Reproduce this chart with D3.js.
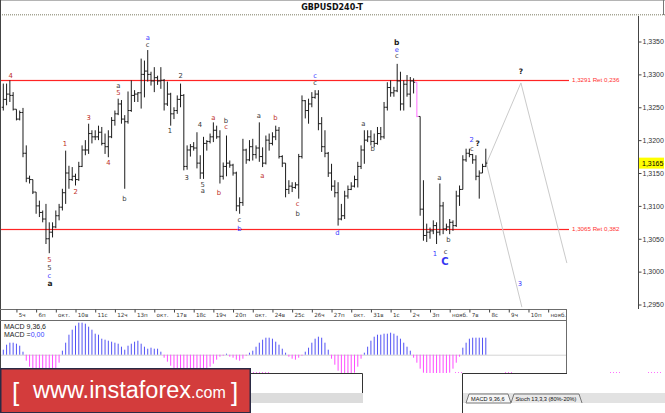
<!DOCTYPE html>
<html>
<head>
<meta charset="utf-8">
<script src="https://cdn.jsdelivr.net/npm/d3@7"></script>
<style>
  html, body { margin: 0; padding: 0; background: #fff; }
  svg { display: block; }
</style>
</head>
<body>
<svg id="chart" width="665" height="413" font-family="DejaVu Sans, sans-serif"></svg>
<script>
// GBPUSD, 4h bars, 4 Oct - 7 Nov
const symbol = "GBPUSD240-T";
const dayLabels = ["5ч", "6п", "окт.", "10в", "11с", "12ч", "13п", "окт.", "17в", "18с", "19ч", "20п", "окт.",
  "24в", "25с", "26ч", "27п", "окт.", "31в", "1с", "2ч", "3п", "нояб.", "7в", "8с", "9ч", "10п", "нояб."];

const opens = [1.3250, 1.3262, 1.3270, 1.3268, 1.3247, 1.3232, 1.3242, 1.3180, 1.3142, 1.3140,
  1.3121, 1.3100, 1.3090, 1.3080, 1.3050, 1.3060, 1.3068, 1.3085, 1.3098, 1.3120,
  1.3150, 1.3140, 1.3145, 1.3140, 1.3160, 1.3185, 1.3185, 1.3210, 1.3205, 1.3205,
  1.3212, 1.3195, 1.3190, 1.3205, 1.3230, 1.3240, 1.3255, 1.3232, 1.3228, 1.3245,
  1.3268, 1.3270, 1.3272, 1.3300, 1.3305, 1.3300, 1.3290, 1.3295, 1.3290, 1.3291,
  1.3255, 1.3270, 1.3240, 1.3245, 1.3262, 1.3268, 1.3160, 1.3185, 1.3190, 1.3188,
  1.3165, 1.3150, 1.3195, 1.3198, 1.3205, 1.3215, 1.3205, 1.3145, 1.3160, 1.3165,
  1.3162, 1.3150, 1.3100, 1.3105, 1.3185, 1.3170, 1.3190, 1.3178, 1.3188, 1.3175,
  1.3165, 1.3200, 1.3195, 1.3205, 1.3215, 1.3175, 1.3165, 1.3125, 1.3130, 1.3128,
  1.3132, 1.3175, 1.3260, 1.3245, 1.3255, 1.3265, 1.3270, 1.3225, 1.3190, 1.3180,
  1.3150, 1.3130, 1.3120, 1.3080, 1.3085, 1.3115, 1.3125, 1.3130, 1.3140, 1.3160,
  1.3185, 1.3200, 1.3205, 1.3198, 1.3195, 1.3210, 1.3205, 1.3250, 1.3280, 1.3272,
  1.3275, 1.3290, 1.3255, 1.3285, 1.3270, 1.3290, 1.3288, 1.3236, 1.3095, 1.3055,
  1.3060, 1.3062, 1.3070, 1.3060, 1.3100, 1.3065, 1.3068, 1.3075, 1.3070, 1.3115,
  1.3125, 1.3170, 1.3180, 1.3178, 1.3170, 1.3145, 1.3150, 1.3160];
const highs = [1.3286, 1.3286, 1.3291, 1.3273, 1.3247, 1.3245, 1.3249, 1.3192, 1.3146, 1.3140,
  1.3121, 1.3108, 1.3093, 1.3103, 1.3075, 1.3075, 1.3093, 1.3103, 1.3126, 1.3184,
  1.3161, 1.3159, 1.3149, 1.3167, 1.3192, 1.3200, 1.3225, 1.3215, 1.3215, 1.3222,
  1.3220, 1.3210, 1.3215, 1.3235, 1.3245, 1.3263, 1.3261, 1.3238, 1.3274, 1.3291,
  1.3276, 1.3273, 1.3324, 1.3321, 1.3337, 1.3304, 1.3311, 1.3298, 1.3311, 1.3293,
  1.3289, 1.3272, 1.3250, 1.3268, 1.3286, 1.3270, 1.3192, 1.3194, 1.3197, 1.3212,
  1.3177, 1.3205, 1.3200, 1.3210, 1.3227, 1.3222, 1.3215, 1.3166, 1.3207, 1.3169,
  1.3164, 1.3152, 1.3113, 1.3202, 1.3187, 1.3200, 1.3202, 1.3192, 1.3227, 1.3189,
  1.3207, 1.3210, 1.3212, 1.3222, 1.3220, 1.3177, 1.3165, 1.3139, 1.3136, 1.3136,
  1.3179, 1.3268, 1.3261, 1.3263, 1.3273, 1.3276, 1.3276, 1.3235, 1.3215, 1.3182,
  1.3164, 1.3139, 1.3136, 1.3103, 1.3123, 1.3131, 1.3136, 1.3146, 1.3167, 1.3192,
  1.3215, 1.3215, 1.3215, 1.3210, 1.3220, 1.3220, 1.3258, 1.3288, 1.3291, 1.3281,
  1.3316, 1.3304, 1.3291, 1.3299, 1.3296, 1.3294, 1.3288, 1.3236, 1.3139, 1.3073,
  1.3067, 1.3078, 1.3075, 1.3134, 1.3106, 1.3073, 1.3080, 1.3078, 1.3123, 1.3131,
  1.3177, 1.3187, 1.3187, 1.3179, 1.3177, 1.3154, 1.3164, 1.3187];
const lows = [1.3245, 1.3253, 1.3258, 1.3245, 1.3230, 1.3230, 1.3174, 1.3136, 1.3134, 1.3118,
  1.3088, 1.3083, 1.3075, 1.3042, 1.3028, 1.3052, 1.3066, 1.3078, 1.3093, 1.3103,
  1.3126, 1.3138, 1.3131, 1.3138, 1.3159, 1.3177, 1.3179, 1.3195, 1.3200, 1.3200,
  1.3192, 1.3179, 1.3174, 1.3203, 1.3222, 1.3238, 1.3225, 1.3126, 1.3225, 1.3243,
  1.3258, 1.3258, 1.3248, 1.3265, 1.3289, 1.3283, 1.3273, 1.3284, 1.3278, 1.3245,
  1.3252, 1.3222, 1.3232, 1.3240, 1.3250, 1.3154, 1.3155, 1.3175, 1.3184, 1.3157,
  1.3141, 1.3141, 1.3184, 1.3195, 1.3197, 1.3202, 1.3134, 1.3140, 1.3145, 1.3158,
  1.3146, 1.3092, 1.3088, 1.3100, 1.3164, 1.3168, 1.3169, 1.3172, 1.3167, 1.3159,
  1.3163, 1.3184, 1.3192, 1.3200, 1.3172, 1.3159, 1.3113, 1.3118, 1.3121, 1.3126,
  1.3111, 1.3172, 1.3233, 1.3225, 1.3250, 1.3263, 1.3215, 1.3182, 1.3174, 1.3144,
  1.3123, 1.3113, 1.3070, 1.3078, 1.3080, 1.3111, 1.3124, 1.3128, 1.3128, 1.3156,
  1.3164, 1.3197, 1.3192, 1.3189, 1.3193, 1.3200, 1.3202, 1.3245, 1.3266, 1.3266,
  1.3273, 1.3245, 1.3245, 1.3266, 1.3250, 1.3271, 1.3235, 1.3085, 1.3047, 1.3045,
  1.3050, 1.3057, 1.3042, 1.3055, 1.3057, 1.3062, 1.3057, 1.3062, 1.3068, 1.3100,
  1.3125, 1.3167, 1.3174, 1.3164, 1.3139, 1.3111, 1.3150, 1.3159];
const closes = [1.3262, 1.3270, 1.3268, 1.3247, 1.3232, 1.3242, 1.3180, 1.3142, 1.3140, 1.3121,
  1.3100, 1.3090, 1.3080, 1.3050, 1.3060, 1.3068, 1.3085, 1.3098, 1.3120, 1.3150,
  1.3140, 1.3145, 1.3140, 1.3160, 1.3185, 1.3185, 1.3210, 1.3205, 1.3205, 1.3212,
  1.3195, 1.3190, 1.3205, 1.3230, 1.3240, 1.3255, 1.3232, 1.3228, 1.3245, 1.3268,
  1.3270, 1.3272, 1.3300, 1.3305, 1.3300, 1.3290, 1.3295, 1.3290, 1.3291, 1.3255,
  1.3270, 1.3240, 1.3245, 1.3262, 1.3268, 1.3160, 1.3185, 1.3190, 1.3188, 1.3165,
  1.3150, 1.3195, 1.3198, 1.3205, 1.3215, 1.3205, 1.3145, 1.3160, 1.3165, 1.3162,
  1.3150, 1.3100, 1.3105, 1.3185, 1.3170, 1.3190, 1.3178, 1.3188, 1.3175, 1.3165,
  1.3200, 1.3195, 1.3205, 1.3215, 1.3175, 1.3165, 1.3125, 1.3130, 1.3128, 1.3132,
  1.3175, 1.3260, 1.3245, 1.3255, 1.3265, 1.3270, 1.3225, 1.3190, 1.3180, 1.3150,
  1.3130, 1.3120, 1.3080, 1.3085, 1.3115, 1.3125, 1.3130, 1.3140, 1.3160, 1.3185,
  1.3200, 1.3205, 1.3198, 1.3195, 1.3210, 1.3205, 1.3250, 1.3280, 1.3272, 1.3275,
  1.3290, 1.3255, 1.3285, 1.3270, 1.3290, 1.3288, 1.3236, 1.3095, 1.3055, 1.3060,
  1.3062, 1.3070, 1.3060, 1.3100, 1.3065, 1.3068, 1.3075, 1.3070, 1.3115, 1.3125,
  1.3170, 1.3180, 1.3178, 1.3170, 1.3145, 1.3150, 1.3160, 1.3165];

// MACD 9,36,6 histogram, in points (0.0001)
const macdPts = [5, 10, 12, 12, 11, 9, 3,
  -6, -12, -16, -18, -20, -22, -22, -20, -18, -14, -8,
  4, 12, 20, 25, 29, 32, 32, 31, 28, 25, 21, 20, 16, 15, 14, 13, 12, 11, 8, 5, 9, 11, 13, 14, 11, 8, 6, 7, 6, 6, 3,
  -3, -7, -11, -14, -17, -18, -20, -22, -22, -22, -20, -18, -17, -15, -12, -9, -5,
  -2, -1, 1, -2, -3, -5, -6, -4, -1, 2,
  4, 8, 12, 15, 17, 17, 16, 13, 10, 6, 2,
  -2, -4, -5, -3, -1,
  3, 7, 12, 16, 18, 17, 12, 5,
  -4, -10, -16, -20, -22, -22, -21, -18, -12, -4,
  2, 8, 14, 18, 20, 20, 21, 21, 22, 21, 19, 16, 12, 8, 4,
  -3, -8, -14, -18, -20, -22, -22, -22, -22, -21, -20, -18, -14, -8, -2,
  7, 12, 16, 17, 17, 17, 17, 17];

const priceTicks = [1.3350, 1.3300, 1.3250, 1.3200, 1.3150, 1.3100, 1.3050, 1.3000, 1.2950];
const lastPrice = 1.3165;
const retPrices = [1.3291, 1.3065];
const retNames = ["1,3291 Ret 0,236", "1,3065 Ret 0,382"];
const spikeBar = 126; // bar marked in magenta on the terminal

// forecast paths [bar index, price]
const pathUp = [[147, 1.3162], [157.7, 1.3287], [171.7, 1.3013]];
const pathDown = [[147, 1.3168], [158, 1.2946]];

// wave marks: text, bar index, price, degree
const waveText = ["4", "a", "c", "2", "a", "5", "3", "4", "a", "b", "c", "a", "b", "c", "c", "1", "1", "4", "2", "b",
  "3", "5", "a", "b", "a", "c", "b", "c", "b", "5", "5", "c", "a", "b", "e", "c", "?", "a", "b", "2", "?", "c",
  "a", "b", "d", "1", "c", "C", "3"];
const waveIdx = [2.25, 44, 44, 54.05, 35.04, 35.04, 26, 59.93, 63.99, 67.85, 67.85, 77.82, 82.88, 94.97, 94.97, 50.79,
  18.8, 31.99, 22.06, 36.87, 55.88, 60.76, 60.76, 65.72, 78.92, 89.7, 89.7, 71.91, 71.91, 14.02, 14.02, 14.02, 14.23,
  119.87, 119.87, 119.87, 157.74, 109.69, 112.55, 142.72, 144.55, 142.72, 132.85, 135.59, 101.77, 131.53, 134.79,
  134.58, 157.4];
const wavePrice = [1.32975, 1.33564, 1.33447, 1.3298, 1.32823, 1.32727, 1.32347, 1.32241, 1.32347, 1.32295, 1.32204,
  1.32371, 1.32347, 1.32984, 1.32873, 1.32139, 1.31952, 1.31663, 1.31216, 1.31115, 1.31429, 1.31317, 1.31226,
  1.31206, 1.31454, 1.31029, 1.30876, 1.30796, 1.30648, 1.30187, 1.30060, 1.29938, 1.29816, 1.33482, 1.33381,
  1.33279, 1.33041, 1.32245, 1.31865, 1.32002, 1.31952, 1.31865, 1.31429, 1.30492, 1.30592, 1.30268, 1.30298,
  1.30162, 1.29812];
const waveDegree = ["s", "m", "n", "n", "n", "s", "s", "n", "s", "n", "s", "n", "s", "m", "n", "n", "s", "s", "s", "n",
  "n", "n", "n", "s", "s", "s", "n", "n", "m", "s", "n", "m", "p", "p", "m", "n", "p", "n", "n", "m", "p", "n",
  "n", "n", "m", "m", "n", "i", "m"];

const degreeStyle = {
  i: { fill: "#3636f2", size: 10, weight: "bold" },
  p: { fill: "#222", size: 7.5, weight: "bold" },
  m: { fill: "#3c3cff", size: 6.8, weight: "normal" },
  n: { fill: "#3a3a3a", size: 6.8, weight: "normal" },
  s: { fill: "#c03028", size: 6.8, weight: "normal" }
};
const sans = "'Liberation Sans', Arial, sans-serif";

const svg = d3.select("#chart");
const x = d3.scaleLinear().domain([0, 147]).range([3.3, 485.8]);
const y = d3.scaleLinear().domain([1.2950, 1.3350]).range([304.5, 41.5]);
const macdY = d3.scaleLinear().domain([-22, 32]).range([376.7, 322.7]);
const priceFmt = (d) => d3.format(".4f")(d).replace(".", ",");

// ---- frame ----
const frame = svg.append("g").attr("fill", "none");
frame.append("line").attr("x1", 0).attr("x2", 665).attr("y1", 0.5).attr("y2", 0.5).attr("stroke", "#b4b4b4");
frame.append("line").attr("x1", 0).attr("x2", 665).attr("y1", 14.5).attr("y2", 14.5)
  .attr("stroke", "#a4a494").attr("stroke-dasharray", "1,1");
frame.append("line").attr("x1", 0).attr("x2", 665).attr("y1", 15.5).attr("y2", 15.5)
  .attr("stroke", "#d6d6cc").attr("stroke-dasharray", "1,1");
frame.append("line").attr("x1", 663.5).attr("x2", 663.5).attr("y1", 0).attr("y2", 15).attr("stroke", "#777");
frame.append("line").attr("x1", 0.5).attr("x2", 0.5).attr("y1", 0).attr("y2", 413).attr("stroke", "#444");
frame.append("line").attr("x1", 638.5).attr("x2", 638.5).attr("y1", 16).attr("y2", 309).attr("stroke", "#444");

svg.append("text").attr("x", 332).attr("y", 10).attr("text-anchor", "middle")
  .attr("font-size", 8).attr("font-weight", "bold").attr("fill", "#111").text(symbol);

// ---- retracement levels ----
const ret = svg.append("g");
ret.selectAll("line.halo").data(retPrices).join("line").attr("class", "halo")
  .attr("x1", 1).attr("x2", 569)
  .attr("y1", (d) => Math.round(y(d)) + 0.5).attr("y2", (d) => Math.round(y(d)) + 0.5)
  .attr("stroke", "#ffd2d2").attr("stroke-width", 2.2);
ret.selectAll("line.level").data(retPrices).join("line").attr("class", "level")
  .attr("x1", 1).attr("x2", 569)
  .attr("y1", (d) => Math.round(y(d)) + 0.5).attr("y2", (d) => Math.round(y(d)) + 0.5)
  .attr("stroke", "#ff2424").attr("stroke-width", 1);
ret.selectAll("text").data(retPrices).join("text")
  .attr("x", 572).attr("y", (d) => y(d) + 2.2)
  .attr("font-family", sans).attr("font-size", 6.2).attr("fill", "#ff3030")
  .text((d, i) => retNames[i]);

// ---- forecast paths ----
const line = d3.line().x((d) => x(d[0])).y((d) => y(d[1]));
svg.append("g").attr("fill", "none").attr("stroke", "#cacaca").attr("stroke-width", 1)
  .selectAll("path").data([pathUp, pathDown]).join("path").attr("d", line);

// ---- price bars ----
svg.append("g").attr("stroke", "#1c1c1c").attr("stroke-width", 1).attr("fill", "none")
  .selectAll("path").data(d3.range(opens.length)).join("path")
  .attr("stroke", (i) => (i === spikeBar ? "#ff70ff" : null))
  .attr("d", (i) => {
    const cx = x(i);
    return `M${cx},${y(highs[i])}V${y(lows[i])}` +
      `M${cx - 1.6},${y(opens[i])}H${cx}` +
      `M${cx},${y(closes[i])}H${cx + 1.6}`;
  });

// ---- wave marks ----
svg.append("g").attr("text-anchor", "middle")
  .selectAll("text").data(waveText).join("text")
  .attr("x", (d, i) => x(waveIdx[i]))
  .attr("y", (d, i) => y(wavePrice[i]))
  .attr("dy", "0.36em")
  .attr("font-size", (d, i) => degreeStyle[waveDegree[i]].size)
  .attr("font-weight", (d, i) => degreeStyle[waveDegree[i]].weight)
  .attr("fill", (d, i) => degreeStyle[waveDegree[i]].fill)
  .text((d) => d);

// ---- price axis ----
const yAxis = d3.axisRight(y).tickValues(priceTicks).tickFormat(priceFmt).tickSize(3);
const gy = svg.append("g").attr("transform", "translate(638.5,0)").call(yAxis);
gy.select(".domain").remove();
gy.selectAll("line").attr("stroke", "#444");
gy.selectAll("text").attr("x", 4).attr("font-size", 7).attr("font-family", sans).attr("fill", "#333");

const cur = svg.append("g").attr("transform", `translate(639,${y(lastPrice)})`);
cur.append("rect").attr("x", 0).attr("y", -5.5).attr("width", 25).attr("height", 11).attr("fill", "#ffff00");
cur.append("text").attr("x", 3).attr("y", 2.6).attr("font-size", 7).attr("font-family", sans)
  .attr("fill", "#000").text(priceFmt(lastPrice));

// ---- time axis ----
const strip = svg.append("g").attr("fill", "none").attr("stroke", "#6c6c6c");
strip.append("line").attr("x1", 0).attr("x2", 567).attr("y1", 309.5).attr("y2", 309.5);
strip.append("line").attr("x1", 0).attr("x2", 567).attr("y1", 320.5).attr("y2", 320.5);
strip.append("line").attr("x1", 566.5).attr("x2", 566.5).attr("y1", 309.5).attr("y2", 373);

const xAxis = d3.axisBottom(x)
  .tickValues(dayLabels.map((d, k) => 4 + 6 * k))
  .tickFormat((d, k) => dayLabels[k])
  .tickSize(3);
const gx = svg.append("g").attr("transform", "translate(0,309.5)").call(xAxis);
gx.select(".domain").remove();
gx.selectAll("line").attr("stroke", "#444");
gx.selectAll("text").attr("text-anchor", "start").attr("x", 1.8).attr("y", 3.2).attr("dy", "0.71em")
  .attr("font-family", "DejaVu Sans, sans-serif").attr("font-size", 5.6).attr("fill", "#333");

// ---- MACD panel ----
svg.append("clipPath").attr("id", "macdClip")
  .append("rect").attr("x", 0).attr("y", 321).attr("width", 566).attr("height", 52);

const macd = svg.append("g").attr("clip-path", "url(#macdClip)");
macd.append("line").attr("x1", 1).attr("x2", 566).attr("y1", macdY(0) + 0.5).attr("y2", macdY(0) + 0.5)
  .attr("stroke", "#d4d4d4");
macd.selectAll("line.bar").data(macdPts).join("line").attr("class", "bar")
  .attr("x1", (d, i) => x(i)).attr("x2", (d, i) => x(i))
  .attr("y1", macdY(0)).attr("y2", (d) => macdY(d))
  .attr("stroke", (d) => (d >= 0 ? "#5252f4" : "#ff4cff"))
  .attr("stroke-width", 1);

svg.append("text").attr("x", 4).attr("y", 328.5).attr("font-size", 7).attr("font-family", sans)
  .attr("fill", "#222").text("MACD 9,36,6");
const mv = svg.append("text").attr("x", 4).attr("y", 336.5).attr("font-size", 7).attr("font-family", sans)
  .attr("fill", "#222");
mv.append("tspan").text("MACD =");
mv.append("tspan").attr("fill", "#3b3bff").text("0,00");

// ---- terminal leftovers under the chart ----
const bottom = svg.append("g");
bottom.selectAll("line.dots").data([[250, 271], [455, 463], [505, 512], [610, 620], [648, 663]])
  .join("line").attr("class", "dots")
  .attr("x1", (d) => d[0]).attr("x2", (d) => d[1]).attr("y1", 372.5).attr("y2", 372.5)
  .attr("stroke", "#ff70ff").attr("stroke-dasharray", "1,2");

bottom.append("rect").attr("x", 250).attr("y", 393).attr("width", 113).attr("height", 10).attr("fill", "#dcdcdc");
bottom.append("path").attr("d", "M250,373.5H362.5V393").attr("fill", "none").attr("stroke", "#333");

bottom.append("path").attr("d", "M462.5,413V373.5H567").attr("fill", "none").attr("stroke", "#333");
bottom.append("rect").attr("x", 463).attr("y", 393).attr("width", 202).attr("height", 10).attr("fill", "#e2e2e2");
bottom.append("path").attr("d", "M466,403L469,394H508L511,403Z").attr("fill", "#f6f6f6").attr("stroke", "#777");
bottom.append("path").attr("d", "M511,403L514,394H579L582,403").attr("fill", "#e8e8e8").attr("stroke", "#777");
bottom.append("text").attr("x", 471).attr("y", 401).attr("font-size", 5.6).attr("font-family", sans)
  .attr("fill", "#111").text("MACD 9,36,6");
bottom.append("text").attr("x", 515.5).attr("y", 401).attr("font-size", 5.6).attr("font-family", sans)
  .attr("fill", "#111").text("Stoch 13,3,3 (80%-20%)");

// ---- banner ----
const banner = svg.append("g");
banner.append("rect").attr("x", 0.75).attr("y", 368.75).attr("width", 249.5).attr("height", 44)
  .attr("fill", "#d33c3c").attr("stroke", "#2a2a44").attr("stroke-width", 1.5);
const bt = banner.append("g").attr("fill", "#fff").attr("font-family", sans);
bt.append("text").attr("x", 12).attr("y", 401).attr("font-size", 26).text("[");
const site = bt.append("text").attr("x", 33).attr("y", 398).attr("font-size", 23.5);
site.append("tspan").text("www.instaforex");
site.append("tspan").attr("font-size", 16).text(".com");
bt.append("text").attr("x", 231).attr("y", 401).attr("font-size", 26).text("]");
</script>
</body>
</html>
